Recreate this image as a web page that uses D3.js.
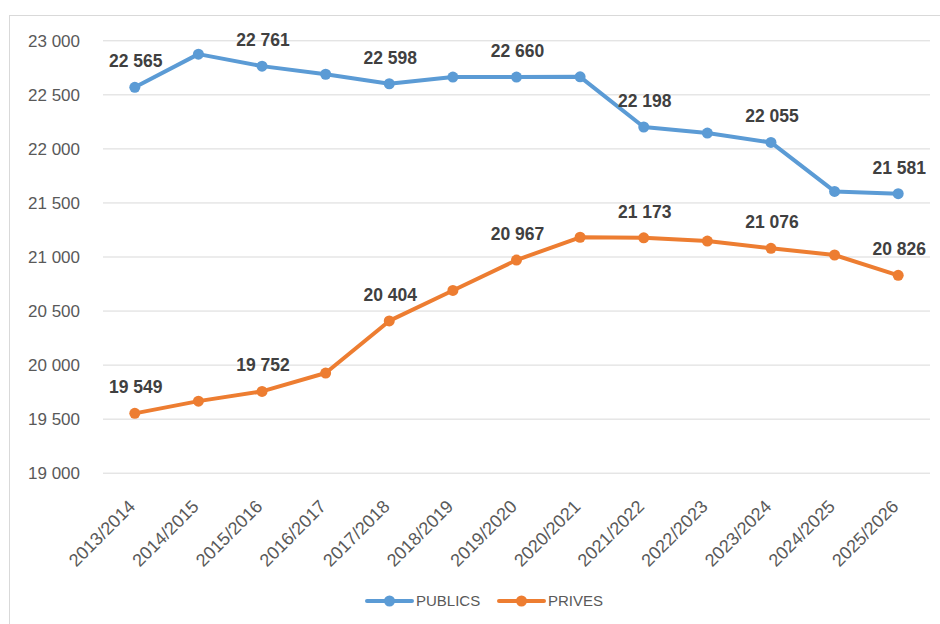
<!DOCTYPE html>
<html>
<head>
<meta charset="utf-8">
<script src="https://cdn.jsdelivr.net/npm/d3@7"></script>
<style>
  html, body { margin: 0; padding: 0; background: #fff; }
  svg { display: block; font-family: "Liberation Sans", Arial, sans-serif; }
</style>
</head>
<body>
<svg id="chart" width="940" height="624"></svg>
<script>
// School years on the x axis
const years = ["2013/2014", "2014/2015", "2015/2016", "2016/2017", "2017/2018", "2018/2019",
  "2019/2020", "2020/2021", "2021/2022", "2022/2023", "2023/2024", "2024/2025", "2025/2026"];

// Pupil counts per sector
const publics = [22565, 22872, 22761, 22686, 22598, 22660, 22660, 22662, 22198, 22142, 22055, 21602, 21581];
const prives  = [19549, 19662, 19752, 19922, 20404, 20686, 20967, 21178, 21173, 21143, 21076, 21014, 20826];

// Which points carry a value label (every other year)
const labelled = [0, 2, 4, 6, 8, 10, 12];

// Y axis ticks
const yTicks = [19000, 19500, 20000, 20500, 21000, 21500, 22000, 22500, 23000];

const seriesNames = ["PUBLICS", "PRIVES"];
const seriesColors = ["#5B9BD5", "#ED7D31"];

const series = [
  { name: seriesNames[0], values: publics, color: seriesColors[0] },
  { name: seriesNames[1], values: prives,  color: seriesColors[1] }
];

const fr = d3.formatLocale({ decimal: ",", thousands: " ", grouping: [3], currency: ["", " €"] });
const fmt = fr.format(",d");

const svg = d3.select("#chart");

// Chart frame (runs off the right and bottom edges)
svg.append("rect")
  .attr("x", 9.5).attr("y", 15.5)
  .attr("width", 960).attr("height", 640)
  .attr("fill", "#fff")
  .attr("stroke", "#D9D9D9").attr("stroke-width", 1);

const plot = { left: 103, right: 930, top: 40.3, bottom: 472.7 };

const x = d3.scalePoint().domain(years).range([plot.left, plot.right]).padding(0.5);
const y = d3.scaleLinear().domain([19000, 23000]).range([plot.bottom, plot.top]);

// Horizontal gridlines + y tick labels
const yAxis = d3.axisLeft(y).tickValues(yTicks).tickFormat(fmt)
  .tickSize(-(plot.right - plot.left)).tickPadding(23);
const gy = svg.append("g").attr("transform", `translate(${plot.left},0)`).call(yAxis);
gy.select(".domain").remove();
gy.selectAll(".tick line").attr("stroke", "#D9D9D9").attr("stroke-width", 1);
gy.selectAll(".tick text")
  .attr("fill", "#595959")
  .style("font-size", "17px")
  .attr("dy", "0.35em");

// X axis labels, rotated
const xAxis = d3.axisBottom(x).tickSize(0).tickPadding(0);
const gx = svg.append("g").attr("transform", `translate(0,${plot.bottom})`).call(xAxis);
gx.select(".domain").remove();
gx.selectAll(".tick text")
  .attr("fill", "#595959")
  .style("font-size", "18px")
  .attr("text-anchor", "end")
  .attr("dy", 0).attr("y", 0)
  .attr("transform", "translate(1,35) rotate(-45)");

// Lines, markers and labels
const line = d3.line().x((d, i) => x(years[i])).y(d => y(d));

series.forEach(s => {
  const g = svg.append("g");
  g.append("path")
    .datum(s.values)
    .attr("d", line)
    .attr("fill", "none")
    .attr("stroke", s.color)
    .attr("stroke-width", 4)
    .attr("stroke-linejoin", "round")
    .attr("stroke-linecap", "round");
  g.selectAll("circle")
    .data(s.values)
    .join("circle")
    .attr("cx", (d, i) => x(years[i]))
    .attr("cy", d => y(d))
    .attr("r", 5.5)
    .attr("fill", s.color);
  g.selectAll("text")
    .data(labelled)
    .join("text")
    .attr("x", i => x(years[i]) + 1)
    .attr("y", i => y(s.values[i]) - 20)
    .attr("text-anchor", "middle")
    .attr("fill", "#404040")
    .style("font-size", "17.5px")
    .style("font-weight", "bold")
    .text(i => fmt(s.values[i]));
});

// Legend
const legendY = 601;
const legendItems = [
  { x: 367, s: series[0] },
  { x: 499, s: series[1] }
];
legendItems.forEach(item => {
  const g = svg.append("g").attr("transform", `translate(${item.x},${legendY})`);
  g.append("line").attr("x1", 0).attr("x2", 45).attr("y1", 0).attr("y2", 0)
    .attr("stroke", item.s.color).attr("stroke-width", 4).attr("stroke-linecap", "round");
  g.append("circle").attr("cx", 22.5).attr("cy", 0).attr("r", 5.5).attr("fill", item.s.color);
  g.append("text").attr("x", 49).attr("y", 0).attr("dy", "0.35em")
    .attr("fill", "#595959").style("font-size", "15px")
    .text(item.s.name);
});
</script>
</body>
</html>
